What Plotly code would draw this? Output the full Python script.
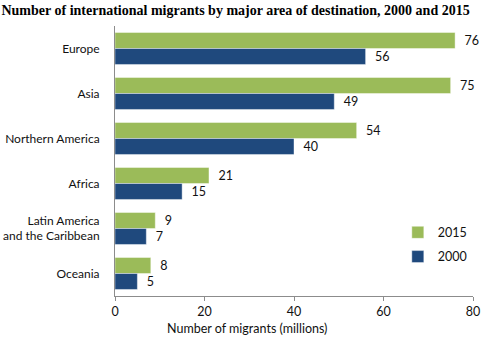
import plotly.graph_objects as go

regions = ["Europe", "Asia", "Northern America", "Africa",
           "Latin America<br>and the Caribbean", "Oceania"]
migrants_2015 = [76, 75, 54, 21, 9, 8]
migrants_2000 = [56, 49, 40, 15, 7, 5]
x_ticks = [0, 20, 40, 60, 80]

GREEN = "#9BBB59"
BLUE = "#1F497D"
FONT = "Lato"

fig = go.Figure()
fig.add_trace(go.Bar(
    y=regions, x=migrants_2015, name="2015", orientation="h",
    marker=dict(color=GREEN, line=dict(color="rgba(255,255,255,0.7)", width=0.6)),
    text=migrants_2015, texttemplate="  %{x}", textposition="outside",
    textfont=dict(family=FONT, size=12.5, color="#111"),
    cliponaxis=False, legendgroup="a",
))
fig.add_trace(go.Bar(
    y=regions, x=migrants_2000, name="2000", orientation="h",
    marker=dict(color=BLUE, line=dict(color="rgba(255,255,255,0.7)", width=0.6)),
    text=migrants_2000, texttemplate="  %{x}", textposition="outside",
    textfont=dict(family=FONT, size=12.5, color="#111"),
    cliponaxis=False, legendgroup="b",
))

fig.update_layout(
    width=492, height=338,
    margin=dict(l=115, r=19, t=26, b=42, autoexpand=False),
    paper_bgcolor="white", plot_bgcolor="white",
    barmode="group", bargap=0.29, bargroupgap=0,
    font=dict(family=FONT, size=12, color="#111"),
    title=dict(
        text="<b>Number of international migrants by major area of destination, 2000 and 2015</b>",
        font=dict(family="Liberation Serif", size=14, color="#000"),
        x=0.003, xanchor="left", y=0.985, yanchor="top",
    ),
    xaxis=dict(
        range=[0, 80], tickvals=x_ticks, showgrid=False, zeroline=False,
        showline=True, linecolor="#8c8c8c", linewidth=1,
        ticks="outside", ticklen=4, tickcolor="#8c8c8c", automargin=False,
        tickfont=dict(family=FONT, size=12.5, color="#111"),
    ),
    yaxis=dict(
        autorange="reversed", showgrid=False, zeroline=False,
        showline=True, linecolor="#8c8c8c", linewidth=1,
        ticks="", ticklabelstandoff=12, automargin=False,
        tickfont=dict(family=FONT, size=12, color="#111"),
    ),
    legend=dict(
        x=0.79, y=0.29, xanchor="left", yanchor="top",
        traceorder="grouped", tracegroupgap=5,
        font=dict(family=FONT, size=12.5, color="#111"),
        bgcolor="rgba(0,0,0,0)",
    ),
    annotations=[dict(
        text="Number of migrants (millions)", xref="paper", yref="paper",
        x=(247 - 115) / (492 - 115 - 19), y=-0.085, xanchor="center", yanchor="top",
        showarrow=False, font=dict(family=FONT, size=12.5, color="#111"),
    )],
)

fig.write_html("out.html")
